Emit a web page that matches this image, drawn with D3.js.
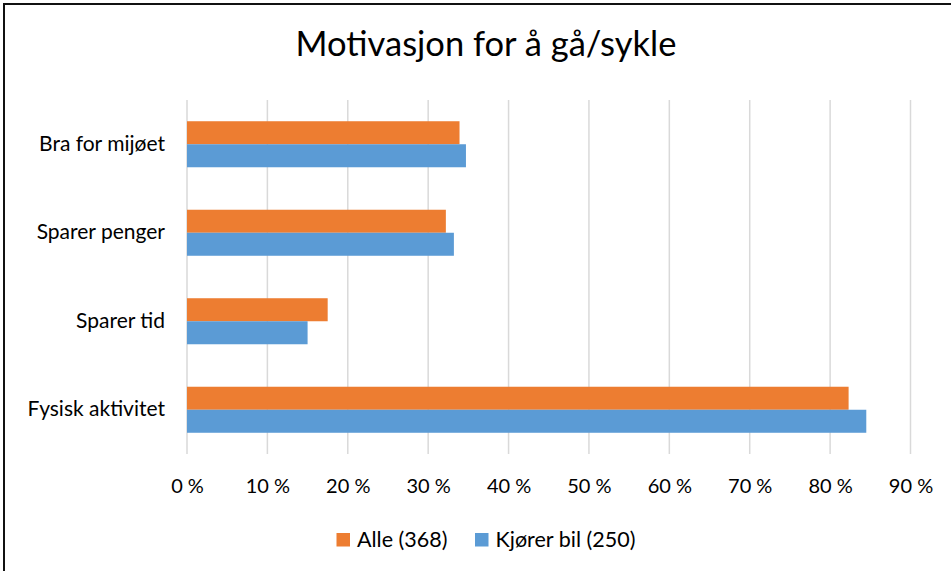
<!DOCTYPE html>
<html><head><meta charset="utf-8">
<script src="https://cdn.jsdelivr.net/npm/d3@7"></script>
<style>
html,body{margin:0;padding:0;background:#fff;}
svg text{font-family:Lato,"Open Sans",sans-serif;fill:#000;}
</style></head>
<body><svg id="c" width="951" height="571"></svg>
<script>
const title = "Motivasjon for å gå/sykle";
const categories = ["Bra for mijøet","Sparer penger","Sparer tid","Fysisk aktivitet"];
const seriesNames = ["Alle (368)","Kjører bil (250)"];
const alle = [33.9, 32.2, 17.5, 82.3];
const kjorerBil = [34.7, 33.2, 15.0, 84.5];
const tickValues = [0,10,20,30,40,50,60,70,80,90];
const colors = ["#ED7D31","#5B9BD5"];

const svg = d3.select("#c");
svg.append("rect").attr("x",4).attr("y",4).attr("width",960).attr("height",600)
  .attr("fill","none").attr("stroke","#111").attr("stroke-width",2);

const x = d3.scaleLinear().domain([0,90]).range([187,910.5]);
const y = d3.scaleBand().domain(categories).range([100,454]).paddingInner(0.48).paddingOuter(0.24);
const ySub = d3.scaleBand().domain(seriesNames).range([0,y.bandwidth()]);

// gridlines
svg.append("g").selectAll("line").data(tickValues).join("line")
  .attr("x1",d=>x(d)).attr("x2",d=>x(d)).attr("y1",100).attr("y2",454)
  .attr("stroke","#d9d9d9").attr("stroke-width",1.5);

const data = [alle,kjorerBil];
seriesNames.forEach((s,si)=>{
  svg.append("g").selectAll("rect").data(categories).join("rect")
    .attr("x",x(0)).attr("y",(c)=>y(c)+ySub(s))
    .attr("width",(c,i)=>x(data[si][i])-x(0)).attr("height",ySub.bandwidth())
    .attr("fill",colors[si]);
});

// x axis
const xAxis = d3.axisBottom(x).tickValues(tickValues).tickFormat(d=>d+" %").tickSize(0).tickPadding(0);
const gx = svg.append("g").attr("transform","translate(0,493)").call(xAxis);
gx.select(".domain").remove();
gx.selectAll("text").attr("font-size",20).attr("font-family","Lato").attr("fill","#000").attr("y",0).attr("dy",0);

// y axis
const yAxis = d3.axisLeft(y).tickSize(0).tickPadding(22);
const gy = svg.append("g").attr("transform",`translate(${x(0)},0)`).call(yAxis);
gy.select(".domain").remove();
gy.selectAll("text").attr("font-size",21).attr("font-family","Lato").attr("fill","#000");

svg.append("text").attr("x",486).attr("y",56).attr("text-anchor","middle")
  .attr("font-size",34.5).text(title);

// legend
const legX = [336.5, 475];
seriesNames.forEach((s,i)=>{
  svg.append("rect").attr("x",legX[i]).attr("y",533).attr("width",13.5).attr("height",13.5).attr("fill",colors[i]);
  svg.append("text").attr("x",legX[i]+20.5).attr("y",547).attr("font-size",21.5).text(s);
});
</script></body></html>
